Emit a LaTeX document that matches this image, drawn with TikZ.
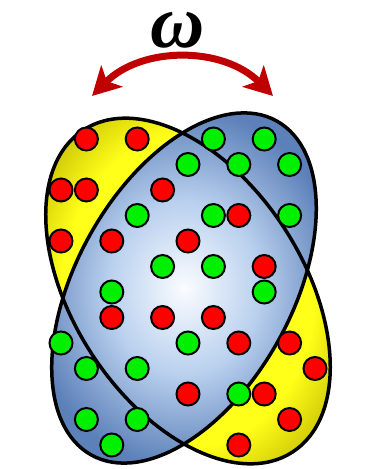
\documentclass[tikz,border=0pt]{standalone}
\usepackage{amssymb}
\usepackage{amsmath}
\usepackage{fontspec}
\usepackage{tikz}
\usetikzlibrary{arrows.meta}
\usepackage{xcolor}
\newfontfamily\omfont{Liberation Serif}
\definecolor{arcred}{RGB}{192,0,0}
\definecolor{dotred}{RGB}{255,0,0}
\definecolor{dotgreen}{RGB}{0,240,0}
\definecolor{bluein}{RGB}{250,252,255}
\definecolor{bluemid}{RGB}{185,208,238}
\definecolor{blueout}{RGB}{92,128,185}
\definecolor{yelin}{RGB}{255,255,25}
\definecolor{yelout}{RGB}{190,180,0}
\pgfdeclareradialshading{yelshade}{\pgfpoint{0bp}{0bp}}{color(0bp)=(yelin); color(20bp)=(yelin); color(30bp)=(yelout); color(50bp)=(yelout)}
\pgfdeclareradialshading{blushade}{\pgfpoint{0bp}{0bp}}{color(0bp)=(bluein); color(13bp)=(bluemid); color(27bp)=(blueout); color(50bp)=(blueout)}
\newcommand{\dotx}[1]{61+25.4*#1}
\newcommand{\doty}[1]{330-25.5*#1}

\begin{document}
\begin{tikzpicture}[x=1pt,y=1pt]
\tikzstyle{rdot}=[circle,draw=black,fill=dotred,line width=2pt,minimum size=23pt,inner sep=0pt]
\tikzstyle{gdot}=[circle,draw=black,fill=dotgreen,line width=2pt,minimum size=23pt,inner sep=0pt]
\tikzstyle{rim}=[line width=3.5pt,draw=black]
\useasboundingbox (0,0) rectangle (370,469);
% the two tilted sets
\shade[shading=yelshade,rotate around={-57:(188,178)}] (188,178) ellipse [x radius=192,y radius=115];
\shade[shading=blushade,rotate around={61:(184,181)}] (184,181) ellipse [x radius=191,y radius=108];
\draw[rim,rotate around={-57:(188,178)}] (188,178) ellipse [x radius=192,y radius=115];
\draw[rim,rotate around={61:(184,181)}] (184,181) ellipse [x radius=191,y radius=108];
% points
\foreach \i/\j [count=\n] in {1/0,3/0,0/2,1/2,4/2,7/3,0/4,2/4,5/4,8/5,2/7,4/7,6/7,7/8,9/8,10/9,5/10,8/10,9/11,7/12}
  \node[rdot] (r\n) at ({\dotx{\i}},{\doty{\j}}) {};
\foreach \i/\j [count=\n] in {6/0,8/0,5/1,7/1,9/1,3/3,6/3,9/3,4/5,6/5,2/6,8/6,0/8,5/8,1/9,3/9,7/10,1/11,3/11,2/12}
  \node[gdot] (g\n) at ({\dotx{\i}},{\doty{\j}}) {};
% swap
\node[inner sep=0pt,font=\omfont\bfseries\itshape\fontsize{75}{75}\selectfont] (om) at (178,438.5) {ω};
\coordinate (al) at (92,373);
\coordinate (ar) at (273,373);
\draw[arcred,line width=7pt,{Stealth[length=28pt,width=30pt,inset=7pt]}-{Stealth[length=28pt,width=30pt,inset=7pt]}] (al) to[bend left=45] (ar);
\end{tikzpicture}
\end{document}
